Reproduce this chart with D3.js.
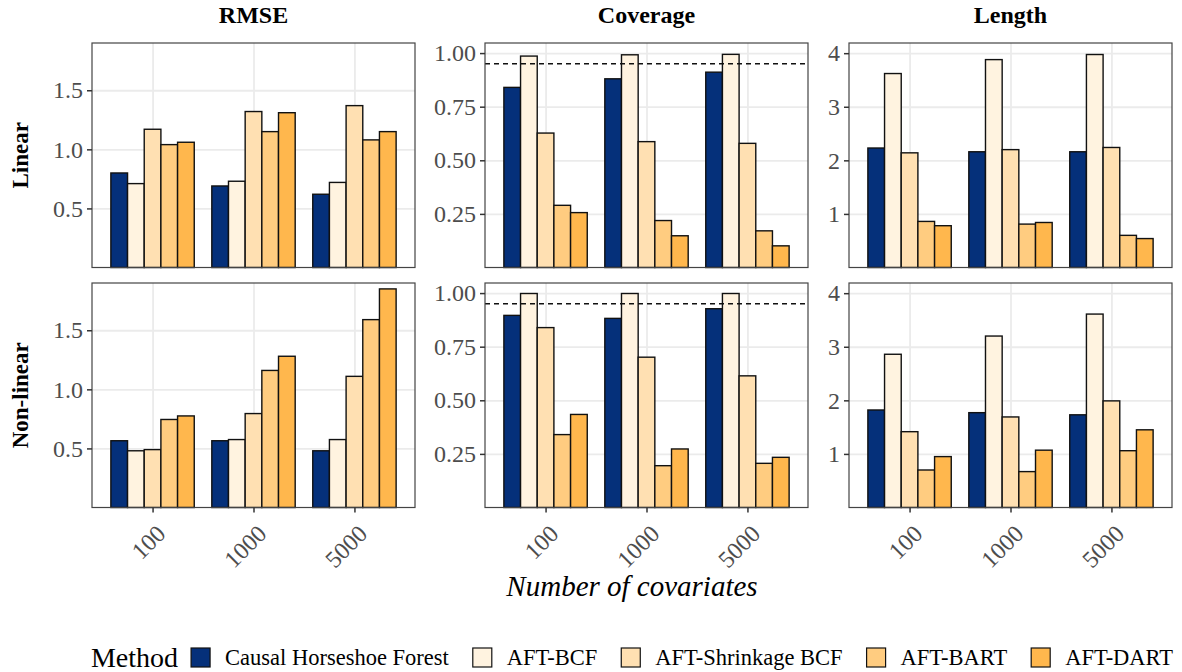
<!DOCTYPE html>
<html>
<head>
<meta charset="utf-8">
<script src="https://cdn.jsdelivr.net/npm/d3@7"></script>
<style>
  body { margin: 0; background: #fff; }
  svg, svg text { font-family: "Liberation Serif", "Times New Roman", serif; }
  .tick text { fill: #4d4d4d; }
</style>
</head>
<body>
<svg id="chart" width="1182" height="672"></svg>
<script>
// data
var methods = ["Causal Horseshoe Forest", "AFT-BCF", "AFT-Shrinkage BCF", "AFT-BART", "AFT-DART"];
var covariates = ["100", "1000", "5000"];
var metrics = ["RMSE", "Coverage", "Length"];
var scenarios = ["Linear", "Non-linear"];

// rows = covariates (100, 1000, 5000), columns = methods
var rmseLinear = [
  [0.80, 0.71, 1.17, 1.04, 1.06],
  [0.69, 0.73, 1.32, 1.15, 1.31],
  [0.62, 0.72, 1.37, 1.08, 1.15]
];
var rmseNonlinear = [
  [0.565, 0.48, 0.49, 0.745, 0.775],
  [0.565, 0.575, 0.795, 1.16, 1.28],
  [0.48, 0.575, 1.11, 1.59, 1.85]
];
var coverageLinear = [
  [0.84, 0.986, 0.627, 0.29, 0.256],
  [0.88, 0.992, 0.587, 0.219, 0.148],
  [0.911, 0.994, 0.579, 0.171, 0.101]
];
var coverageNonlinear = [
  [0.896, 0.998, 0.839, 0.34, 0.434],
  [0.882, 0.998, 0.701, 0.195, 0.273],
  [0.927, 0.998, 0.614, 0.206, 0.234]
];
var lengthLinear = [
  [2.23, 3.62, 2.14, 0.86, 0.78],
  [2.16, 3.88, 2.20, 0.81, 0.84],
  [2.16, 3.975, 2.24, 0.60, 0.54]
];
var lengthNonlinear = [
  [1.82, 2.86, 1.415, 0.70, 0.95],
  [1.77, 3.20, 1.69, 0.67, 1.07],
  [1.73, 3.61, 1.99, 1.06, 1.45]
];

var rmseTicks = [0.5, 1.0, 1.5];
var coverageTicks = [0.25, 0.50, 0.75, 1.00];
var lengthTicks = [1, 2, 3, 4];
var nominalCoverage = 0.95;

var colors = ["#05307a", "#fff3e0", "#ffe0b2", "#ffcc80", "#ffb74d"];

var values = {
  "RMSE": [rmseLinear, rmseNonlinear],
  "Coverage": [coverageLinear, coverageNonlinear],
  "Length": [lengthLinear, lengthNonlinear]
};
var ticks = { "RMSE": rmseTicks, "Coverage": coverageTicks, "Length": lengthTicks };
var formats = { "RMSE": d3.format(".1f"), "Coverage": d3.format(".2f"), "Length": d3.format("d") };
var yMax = { "RMSE": 1.9, "Coverage": 1.047, "Length": 4.19 };

var svg = d3.select("#chart");
var serif = "'Liberation Serif', 'Times New Roman', serif";

var panelX = [92, 485, 849];
var panelY = [43, 283];
var panelW = 323;
var panelH = 224.5;

var color = d3.scaleOrdinal().domain(methods).range(colors);

metrics.forEach(function(metric, c) {
  var x0 = panelX[c];

  // column strip title
  svg.append("text")
    .attr("x", x0 + panelW / 2)
    .attr("y", 23)
    .attr("text-anchor", "middle")
    .style("font-weight", "bold")
    .style("font-size", "24px")
    .text(metric);

  scenarios.forEach(function(scen, r) {
    var y0 = panelY[r];
    var g = svg.append("g");

    var x = d3.scalePoint()
      .domain(covariates)
      .range([x0, x0 + panelW])
      .padding(0.6);
    var groupW = x.step() * 0.826;
    var xInner = d3.scaleBand()
      .domain(methods)
      .range([-groupW / 2, groupW / 2]);

    var y = d3.scaleLinear()
      .domain([0, yMax[metric]])
      .range([y0 + panelH, y0]);

    g.append("rect")
      .attr("x", x0).attr("y", y0)
      .attr("width", panelW).attr("height", panelH)
      .attr("fill", "#fff");

    // grid
    g.append("g")
      .attr("transform", "translate(" + x0 + ",0)")
      .call(d3.axisLeft(y).tickValues(ticks[metric]).tickSize(-panelW).tickFormat(""))
      .call(function(s) {
        s.select(".domain").remove();
        s.selectAll("line").attr("stroke", "#ebebeb").attr("stroke-width", 1.8);
      });
    g.append("g")
      .attr("transform", "translate(0," + y0 + ")")
      .call(d3.axisBottom(x).tickSize(panelH).tickFormat(""))
      .call(function(s) {
        s.select(".domain").remove();
        s.selectAll("line").attr("stroke", "#ebebeb").attr("stroke-width", 1.8);
      });

    // bars
    var rows = [];
    values[metric][r].forEach(function(vals, i) {
      vals.forEach(function(v, j) {
        rows.push({ cov: covariates[i], method: methods[j], value: v });
      });
    });

    g.selectAll(".bar")
      .data(rows)
      .enter().append("rect")
      .attr("class", "bar")
      .attr("x", function(d) { return x(d.cov) + xInner(d.method); })
      .attr("width", xInner.bandwidth())
      .attr("y", function(d) { return y(d.value); })
      .attr("height", function(d) { return y(0) - y(d.value); })
      .attr("fill", function(d) { return color(d.method); })
      .attr("stroke", "#111")
      .attr("stroke-width", 1.4);

    if (metric == "Coverage") {
      g.append("line")
        .attr("x1", x0).attr("x2", x0 + panelW)
        .attr("y1", y(nominalCoverage)).attr("y2", y(nominalCoverage))
        .attr("stroke", "#111")
        .attr("stroke-width", 1.4)
        .attr("stroke-dasharray", "5,4");
    }

    // border
    g.append("rect")
      .attr("x", x0).attr("y", y0)
      .attr("width", panelW).attr("height", panelH)
      .attr("fill", "none")
      .attr("stroke", "#444")
      .attr("stroke-width", 1.2);

    // y axis
    g.append("g")
      .attr("transform", "translate(" + x0 + ",0)")
      .call(d3.axisLeft(y).tickValues(ticks[metric]).tickSize(5).tickPadding(4).tickFormat(formats[metric]))
      .attr("font-family", serif)
      .attr("font-size", 24)
      .call(function(s) {
        s.select(".domain").remove();
        s.selectAll("line").attr("stroke", "#333").attr("stroke-width", 1.5);
      });

    // x axis only on the bottom row
    if (r == 1) {
      g.append("g")
        .attr("transform", "translate(0," + (y0 + panelH) + ")")
        .call(d3.axisBottom(x).tickSize(5).tickFormat(function(d) { return d; }))
        .attr("font-family", serif)
        .attr("font-size", 24)
        .call(function(s) {
          s.select(".domain").remove();
          s.selectAll("line").attr("stroke", "#333").attr("stroke-width", 1.5);
          s.selectAll("text")
            .attr("y", 0)
            .attr("text-anchor", "end")
            .attr("transform", "translate(2,16) rotate(-45)")
            .attr("dy", "0.7em");
        });
    }

    // row strip label
    if (c == 0) {
      svg.append("text")
        .attr("transform", "translate(28," + (y0 + panelH / 2) + ") rotate(-90)")
        .attr("text-anchor", "middle")
        .style("font-weight", "bold")
        .style("font-size", "23px")
        .text(scen);
    }
  });
});

// x axis title
svg.append("text")
  .attr("x", (panelX[0] + panelX[2] + panelW) / 2)
  .attr("y", 596)
  .attr("text-anchor", "middle")
  .style("font-style", "italic")
  .style("font-size", "29px")
  .text("Number of covariates");

// legend
var legend = svg.append("g");
var lx = 0;
var title = legend.append("text")
  .attr("x", 0).attr("y", 667)
  .style("font-size", "28px")
  .text("Method");
lx = title.node().getComputedTextLength() + 13;
methods.forEach(function(m, i) {
  legend.append("rect")
    .attr("x", lx).attr("y", 648)
    .attr("width", 19).attr("height", 19)
    .attr("fill", color(m))
    .attr("stroke", "#111")
    .attr("stroke-width", 1.2);
  lx += 19 + 15;
  var t = legend.append("text")
    .attr("x", lx).attr("y", 665)
    .style("font-size", "22.5px")
    .text(m);
  lx += t.node().getComputedTextLength() + 24;
});
lx -= 24;
legend.attr("transform", "translate(" + (632 - lx / 2) + ",0)");
</script>
</body>
</html>
